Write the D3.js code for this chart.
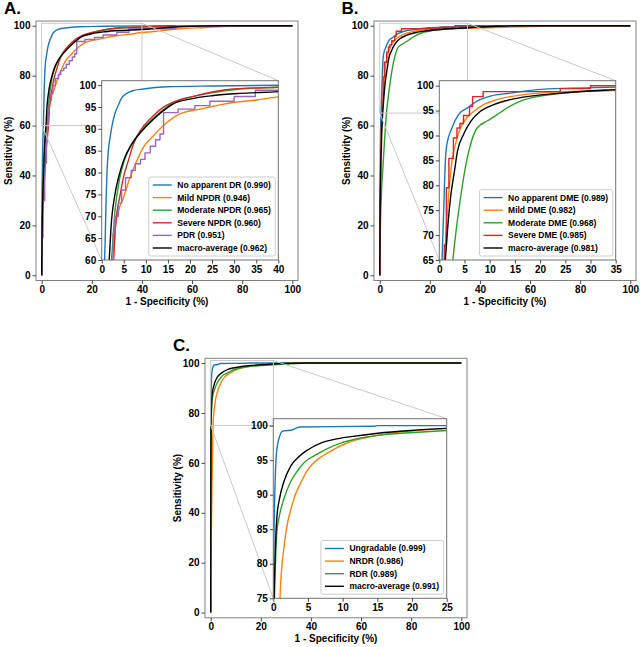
<!DOCTYPE html>
<html><head><meta charset="utf-8">
<script src="https://cdn.jsdelivr.net/npm/d3@7"></script>
<style>
body{margin:0;background:#fff}
text{font-family:"Liberation Sans",Arial,sans-serif;font-weight:bold;fill:#000}
</style>
</head><body>
<svg id="chart" width="640" height="647"></svg>
<script>
// ---------- DATA (1 - specificity %, sensitivity %) ----------
// Panel A: DR grading
const A_noDR = [[0,0],[0.1,25],[0.3,45],[0.6,58],[0.8,65],[1.0,74],[1.2,80],[1.5,85],[1.9,88],[2.3,90.5],[3.0,93.5],[3.8,95.5],[4.5,97],[5.5,98],[7,98.7],[9.4,99.1],[14.7,99.6],[25,99.8],[40,99.95],[100,100]];
const A_mild = [[0,0],[0.3,20],[1.0,40],[2.0,55],[2.6,60],[3.0,66.6],[3.8,71.2],[4.9,74.2],[6.4,78.8],[7.9,82.6],[9.4,85.7],[11.7,88.4],[14.7,91.4],[17.7,93.4],[22.3,94.5],[29.8,96],[35.1,96.6],[40,97.3],[45,97.7],[50,98.3],[55,98.8],[65,99.3],[75,99.8],[85,100],[100,100]];
const A_moderate = [[0,0],[0.2,20],[0.7,40],[1.5,55],[2.2,60],[3.0,71],[4.1,78.8],[5.2,83],[6.8,86.5],[8.3,88.8],[10.2,91],[12.8,93.4],[15.8,95.7],[20,97.2],[25.3,98.3],[31.3,99.1],[40,99.5],[50,99.8],[60,100],[100,100]];
const A_severe = [[0,0],[0.3,20],[1.2,40],[2.2,55],[2.7,60],[3.1,67.3],[4.2,75],[4.9,78.8],[6.0,82.6],[7.2,86.5],[8.7,89.5],[11.3,92.6],[13.9,94.9],[16.9,96.4],[21.5,97.6],[24.5,98.3],[29.8,99.1],[40,99.5],[50,99.9],[55,100],[100,100]];
const A_pdr = [[0,0],[0.2,15],[0.5,30],[1.2,45],[1.9,55],[2.3,60],[2.6,66],[3.0,70],[3.8,73],[4.5,76],[5.4,78.8],[6.7,80.5],[7.6,82],[8.8,83],[9.8,84.5],[11,86],[12.2,87.5],[13.2,88.8],[14,93.7],[17.3,94.5],[21.1,95.3],[24.5,96.3],[30,97.4],[34.8,98.8],[53.5,100],[100,100]];
const A_macro = [[0,0],[0.2,20],[0.7,40],[1.3,55],[1.7,60],[2.1,67.3],[3.0,75],[3.8,78.8],[4.9,82.6],[6.8,86.5],[9.1,89.5],[11.3,91.8],[13.9,94.1],[16.2,95.7],[20,96.8],[25.3,97.6],[31.3,98.1],[40,98.5],[50,99.3],[60,99.8],[70,100],[100,100]];
const A_labels = ["No apparent DR (0.990)","Mild NPDR (0.946)","Moderate NPDR (0.965)","Severe NPDR (0.960)","PDR (0.951)","macro-average (0.962)"];

// Panel B: DME grading
const B_noDME = [[0,0],[0.1,30],[0.3,55],[0.54,65],[0.87,74.8],[1.2,84.8],[1.5,88.2],[2.5,91.5],[3.8,94.2],[5.5,95.5],[7.5,96.9],[10.1,97.9],[14.1,98.5],[19.4,99.2],[26,99.5],[35,99.7],[50,99.9],[60,100],[100,100]];
const B_mild = [[0,0],[0.2,30],[0.6,55],[1.0,65],[1.4,71.4],[1.86,78.1],[2.5,84.8],[3.2,88.2],[4.2,91.5],[5.5,93.6],[6.8,94.8],[8.8,96.2],[11.4,97.2],[16.8,98.2],[22.7,98.7],[35,99.0],[50,99.4],[60,99.7],[70,100],[100,100]];
const B_moderate = [[0,0],[0.3,20],[0.8,35],[1.4,45],[2.0,55],[2.7,65],[3.4,71.4],[4.3,78.1],[5.4,84.8],[6.2,88.2],[7.5,91.5],[9.5,92.9],[11.5,94.2],[13.4,95.5],[16.1,96.9],[20,97.9],[24.7,98.5],[30,99.0],[35,99.2],[42,99.6],[50,100],[100,100]];
const B_severe = [[0,0],[0.1,30],[0.4,50],[0.7,60],[1.0,68],[1.4,79.5],[1.9,85.4],[2.8,89.5],[3.5,91.5],[4.1,92.4],[4.8,94.0],[6.0,95.8],[6.6,97.8],[8.7,98.8],[24,99.4],[30,100],[100,100]];
const B_macro = [[0,0],[0.2,30],[0.6,50],[0.9,60],[1.2,65],[1.66,71.4],[2.3,78.1],[3.0,82.8],[3.6,86.8],[4.8,90.2],[6.2,92.8],[8.1,94.8],[10.8,96.2],[14.1,97.2],[18.1,97.9],[24,98.5],[35,99.2],[45,99.7],[55,100],[100,100]];
const B_labels = ["No apparent DME (0.989)","Mild DME (0.982)","Moderate DME (0.968)","Severe DME (0.985)","macro-average (0.981)"];

// Panel C: referral
const C_ungradable = [[0,0],[0.02,40],[0.04,75],[0.08,82],[0.15,87],[0.3,93],[0.5,96.5],[0.9,98.4],[1.35,99.2],[2.8,99.4],[3.8,99.8],[14.6,99.9],[15,100],[100,100]];
const C_nrdr = [[0,0],[0.1,15],[0.3,35],[0.6,55],[0.8,68],[0.97,75],[1.25,79.7],[1.5,82.1],[2.07,86],[2.55,87.9],[3.1,89.8],[4.0,91.8],[4.7,93.2],[5.9,94.7],[7.1,95.6],[8.6,96.5],[10.2,97.3],[12.2,98],[14.1,98.4],[17,98.9],[20.8,99.3],[25,99.6],[30,99.8],[40,100],[100,100]];
const C_rdr = [[0,0],[0.03,30],[0.08,60],[0.15,75],[0.3,79.7],[0.5,84.5],[0.87,86.9],[1.5,89.3],[2.46,91.8],[3.3,93.2],[4.5,94.7],[6.4,95.9],[8.1,96.8],[9.8,97.5],[12.6,98.2],[16,98.7],[20.3,99],[25,99.3],[32,99.7],[40,100],[100,100]];
const C_macro = [[0,0],[0.03,30],[0.08,60],[0.15,75],[0.3,82.1],[0.53,86.9],[0.87,89.3],[1.5,91.8],[2.55,94.2],[3.8,95.6],[5.0,96.5],[6.9,97.5],[8.8,98],[11.2,98.4],[15.1,98.9],[19.9,99.3],[25,99.6],[32,99.9],[38,100],[100,100]];
const C_labels = ["Ungradable (0.999)","NRDR (0.986)","RDR (0.989)","macro-average (0.991)"];

const mainTicks = [0,20,40,60,80,100];
const A_insetX = [0,5,10,15,20,25,30,35,40], A_insetY = [60,65,70,75,80,85,90,95,100];
const B_insetX = [0,5,10,15,20,25,30,35],    B_insetY = [65,70,75,80,85,90,95,100];
const C_insetX = [0,5,10,15,20,25],          C_insetY = [75,80,85,90,95,100];
const xLabel = "1 - Specificity (%)", yLabel = "Sensitivity (%)";

// ---------- DRAWING ----------
const COL = {blue:"#1f77b4",orange:"#ff7f0e",green:"#2ca02c",red:"#d62728",purple:"#9467bd",black:"#000000"};
const svg = d3.select("#chart");
let clipId = 0;

function styleAxis(g){
  g.select(".domain").remove();
  g.selectAll(".tick line").attr("stroke","#333").attr("stroke-width",0.9);
  g.selectAll(".tick text").style("font-size","10px").style("font-weight","bold")
    .style("font-family",'"Liberation Sans",Arial,sans-serif').attr("fill","#000");
}

function panel(cfg){
  const f = cfg.frame, ins = cfg.inset;
  const g = svg.append("g");
  const x = d3.scaleLinear().domain([-2.27,102.27]).range([f.x0,f.x1]);
  const y = d3.scaleLinear().domain([-2.08,101.9]).range([f.y1,f.y0]);

  // panel letter
  g.append("text").attr("x",cfg.letter[1]).attr("y",cfg.letter[2]).style("font-size","17px").text(cfg.letter[0]);

  const cid = "clip"+(clipId++);
  g.append("clipPath").attr("id",cid).append("rect")
    .attr("x",f.x0).attr("y",f.y0).attr("width",f.x1-f.x0).attr("height",f.y1-f.y0);

  const mk = (sx,sy,step)=>d3.line().x(d=>sx(d[0])).y(d=>sy(d[1])).curve(step?d3.curveStepAfter:d3.curveMonotoneX);

  const mg = g.append("g").attr("clip-path",`url(#${cid})`);
  cfg.series.forEach(s=>{
    mg.append("path").datum(s.data).attr("fill","none").attr("stroke",s.color)
      .attr("stroke-width",1.4).attr("stroke-linejoin","round").attr("d",mk(x,y,s.step));
  });

  g.append("rect").attr("x",f.x0).attr("y",f.y0).attr("width",f.x1-f.x0).attr("height",f.y1-f.y0)
    .attr("fill","none").attr("stroke","#808080").attr("stroke-width",1);

  const ax = g.append("g").attr("transform",`translate(0,${f.y1})`)
    .call(d3.axisBottom(x).tickValues(mainTicks).tickSize(3.5).tickPadding(2));
  styleAxis(ax);
  const ay = g.append("g").attr("transform",`translate(${f.x0},0)`)
    .call(d3.axisLeft(y).tickValues(mainTicks).tickSize(3.5).tickPadding(2));
  styleAxis(ay);

  g.append("text").attr("x",(f.x0+f.x1)/2).attr("y",f.y1+24).attr("text-anchor","middle")
    .style("font-size","10px").text(xLabel);
  g.append("text").attr("transform",`translate(${f.x0-24},${(f.y0+f.y1)/2}) rotate(-90)`)
    .attr("text-anchor","middle").style("font-size","10px").text(yLabel);

  // zoom indicator
  const zc = "#c8c8c8";
  g.append("rect").attr("x",x(ins.xd[0])).attr("y",y(ins.yd[1]))
    .attr("width",x(ins.xd[1])-x(ins.xd[0])).attr("height",y(ins.yd[0])-y(ins.yd[1]))
    .attr("fill","none").attr("stroke",zc).attr("stroke-width",1);
  g.append("line").attr("x1",x(ins.xd[0])).attr("y1",y(ins.yd[0])).attr("x2",ins.x0).attr("y2",ins.y1)
    .attr("stroke",zc).attr("stroke-width",1);
  g.append("line").attr("x1",x(ins.xd[1])).attr("y1",y(ins.yd[1])).attr("x2",ins.x1).attr("y2",ins.y0)
    .attr("stroke",zc).attr("stroke-width",1);

  // inset
  const ix = d3.scaleLinear().domain(ins.xd).range([ins.x0,ins.x1]);
  const iy = d3.scaleLinear().domain(ins.yd).range([ins.y1,ins.y0]);
  g.append("rect").attr("x",ins.x0).attr("y",ins.y0).attr("width",ins.x1-ins.x0).attr("height",ins.y1-ins.y0).attr("fill","#fff");
  const cid2 = "clip"+(clipId++);
  g.append("clipPath").attr("id",cid2).append("rect")
    .attr("x",ins.x0).attr("y",ins.y0).attr("width",ins.x1-ins.x0).attr("height",ins.y1-ins.y0);
  const ig = g.append("g").attr("clip-path",`url(#${cid2})`);
  cfg.series.forEach(s=>{
    ig.append("path").datum(s.data).attr("fill","none").attr("stroke",s.color)
      .attr("stroke-width",1.4).attr("stroke-linejoin","round").attr("d",mk(ix,iy,s.step));
  });
  g.append("rect").attr("x",ins.x0).attr("y",ins.y0).attr("width",ins.x1-ins.x0).attr("height",ins.y1-ins.y0)
    .attr("fill","none").attr("stroke","#707070").attr("stroke-width",1);
  const iax = g.append("g").attr("transform",`translate(0,${ins.y1})`)
    .call(d3.axisBottom(ix).tickValues(ins.xt).tickSize(3.5).tickPadding(2));
  styleAxis(iax);
  const iay = g.append("g").attr("transform",`translate(${ins.x0},0)`)
    .call(d3.axisLeft(iy).tickValues(ins.yt).tickSize(3.5).tickPadding(2));
  styleAxis(iay);

  // legend
  const rowH = 12.6, pad = 8, n = cfg.series.length;
  const lg = g.append("g");
  const box = lg.append("rect");
  const texts = [];
  cfg.series.forEach((s,i)=>{
    texts.push(lg.append("text").attr("y",i*rowH).attr("dy","0.35em").style("font-size","8.5px").text(s.label));
  });
  const tw = d3.max(texts,t=>t.node().getComputedTextLength());
  const bw = 4 + 19 + 5.5 + tw + 4.5, bh = (n-1)*rowH + 2*pad;
  const bx = ins.x1 - 3 - bw, by = ins.y1 - 4 - bh;
  box.attr("x",bx).attr("y",by).attr("width",bw).attr("height",bh).attr("rx",2)
    .attr("fill","#fff").attr("fill-opacity",0.9).attr("stroke","#cccccc").attr("stroke-width",1);
  cfg.series.forEach((s,i)=>{
    const ry = by + pad + i*rowH;
    lg.append("line").attr("x1",bx+4).attr("x2",bx+23).attr("y1",ry).attr("y2",ry)
      .attr("stroke",s.color).attr("stroke-width",1.4);
    texts[i].attr("x",bx+28.5).attr("y",ry);
  });
}

panel({
  letter:["A.",4,14],
  frame:{x0:36,x1:298,y0:21,y1:280.5},
  inset:{x0:101.7,x1:278.3,y0:80.7,y1:260,xd:[0,40],yd:[60,101],xt:A_insetX,yt:A_insetY},
  series:[
    {data:A_noDR,color:COL.blue,label:A_labels[0]},
    {data:A_mild,color:COL.orange,label:A_labels[1]},
    {data:A_moderate,color:COL.green,label:A_labels[2]},
    {data:A_severe,color:COL.red,label:A_labels[3]},
    {data:A_pdr,color:COL.purple,label:A_labels[4],step:true},
    {data:A_macro,color:COL.black,label:A_labels[5]}
  ]
});
panel({
  letter:["B.",341.5,14],
  frame:{x0:374,x1:636,y0:21,y1:280.5},
  inset:{x0:439.3,x1:615.7,y0:80.7,y1:260,xd:[0,35],yd:[65,101],xt:B_insetX,yt:B_insetY},
  series:[
    {data:B_noDME,color:COL.blue,label:B_labels[0]},
    {data:B_mild,color:COL.orange,label:B_labels[1]},
    {data:B_moderate,color:COL.green,label:B_labels[2]},
    {data:B_severe,color:COL.red,label:B_labels[3],step:true},
    {data:B_macro,color:COL.black,label:B_labels[4]}
  ]
});
panel({
  letter:["C.",173,350.5],
  frame:{x0:205,x1:467,y0:358.3,y1:617.8},
  inset:{x0:273.3,x1:446.7,y0:418.7,y1:598.3,xd:[0,25],yd:[75,101],xt:C_insetX,yt:C_insetY},
  series:[
    {data:C_ungradable,color:COL.blue,label:C_labels[0]},
    {data:C_nrdr,color:COL.orange,label:C_labels[1]},
    {data:C_rdr,color:COL.green,label:C_labels[2]},
    {data:C_macro,color:COL.black,label:C_labels[3]}
  ]
});
</script>
</body></html>
